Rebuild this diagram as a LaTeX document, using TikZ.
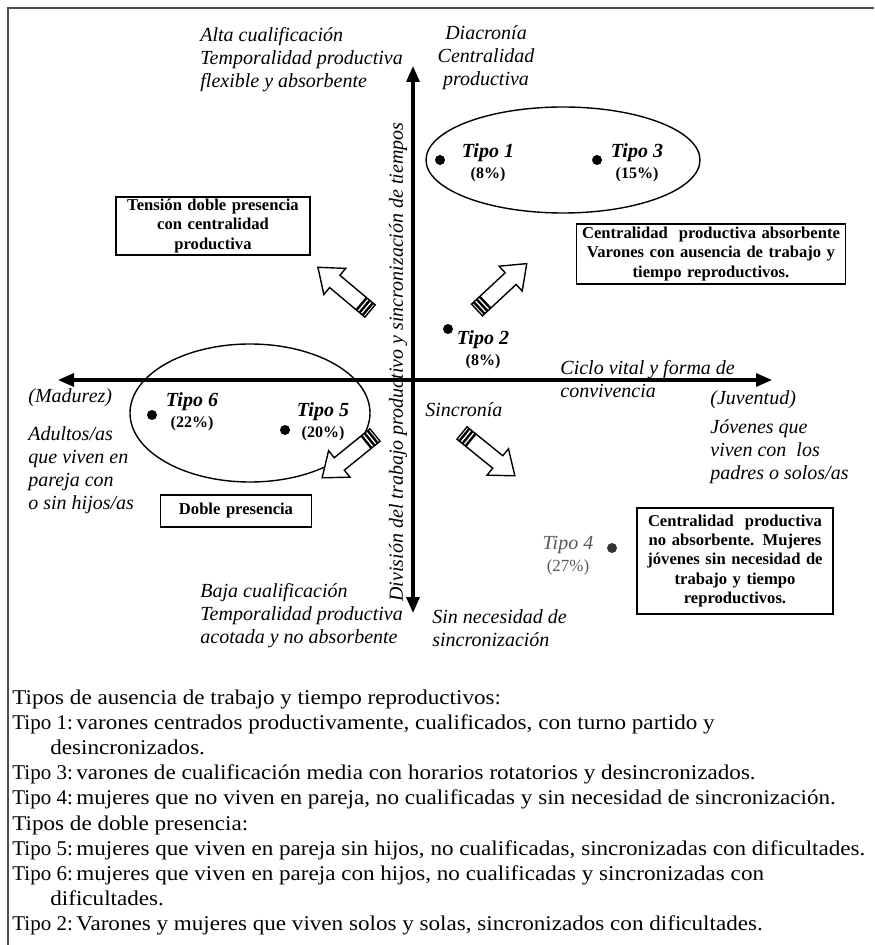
\documentclass[tikz,border=0pt]{standalone}
\usepackage{fontspec}
\setmainfont{Liberation Serif}
\newfontfamily\legfont[FakeStretch=1.1]{Liberation Serif}
\newcommand{\legtag}[1]{\makebox[32pt][l]{\rmfamily #1}}
\usetikzlibrary{arrows.meta,positioning}
\tikzset{
  lbl/.style    = { align=left, inner sep=0pt, font=\fontsize{10}{11.5}\selectfont\itshape },
  clbl/.style   = { lbl, align=center },
  box/.style    = { draw, line width=0.9pt, align=center, inner sep=0pt,
    font=\fontsize{8.3}{9.6}\selectfont\bfseries },
  tipo/.style   = { inner sep=0pt, font=\fontsize{10}{12}\selectfont\bfseries\itshape },
  pct/.style    = { inner sep=0pt, font=\fontsize{8}{10}\selectfont\bfseries },
  dotn/.style   = { circle, fill=black, inner sep=0pt, minimum size=5pt },
  axis/.style   = { line width=1.6pt, {Triangle[length=8pt,width=6.5pt]}-{Triangle[length=8pt,width=6.5pt]} },
  ring/.style   = { draw, line width=0.7pt },
  legend/.style = { align=left, inner sep=0pt, font=\legfont\fontsize{10.5}{12.4}\selectfont },
  barrow/.pic   = {
    \draw[fill=white, line width=0.7pt] (0,-8) -- (46,-8) -- (46,-17) -- (68,0)
      -- (46,17) -- (46,8) -- (0,8) -- cycle;
    \foreach \s in {3,7,11}
      \draw[line width=1.2pt] (\s,-8) -- (\s,8);
  }
}

\begin{document}
\begin{tikzpicture}[x=0.5pt, y=0.5pt, node distance=11pt, on grid]
    \useasboundingbox (0,0) rectangle (874,-945);
    % frame
    \draw[black!70, line width=1pt] (874,-8) -- (7,-8);
    \draw[black!70, line width=1pt] (8,-8) -- (8,-945);

    % axes
    \coordinate (ytop) at (413,-66);
    \coordinate (ybot) at (413,-613);
    \coordinate (xlft) at (58,-380);
    \coordinate (xrgt) at (772,-380);
    \draw[axis] (ybot) -- (ytop);
    \draw[axis] (xlft) -- (xrgt);
    \node[lbl, rotate=90] (yname) at (398,-362)
      {División del trabajo productivo y sincronización de tiempos};

    % corner labels
    \node[lbl, anchor=west] (alta) at (200,-60)
      {Alta cualificación\\Temporalidad productiva\\flexible y absorbente};
    \node[clbl] (diac) at (486,-58) {Diacronía\\Centralidad\\productiva};
    \node[lbl, anchor=west] (ciclo) at (560,-379) {Ciclo vital y forma de\\convivencia};
    \node[lbl, anchor=west] (juv) at (710,-400) {(Juventud)};
    \node[lbl, anchor=west] (jov) at (710,-452)
      {Jóvenes que\\viven con\ \ los\\padres o solos/as};
    \node[lbl, anchor=west] (mad) at (28,-398) {(Madurez)};
    \node[lbl, anchor=west] (adul) at (28,-470)
      {Adultos/as\\que viven en\\pareja con\\o sin hijos/as};
    \node[lbl, anchor=west] (sinc) at (425,-410) {Sincronía};
    \node[lbl, anchor=west] (baja) at (200,-616)
      {Baja cualificación\\Temporalidad productiva\\acotada y no absorbente};
    \node[lbl, anchor=west] (sinnec) at (432,-628) {Sin necesidad de\\sincronización};

    % groups
    \draw[ring] (563,-160) ellipse [x radius=137, y radius=53];
    \draw[ring] (250,-413) ellipse [x radius=120, y radius=69];

    % types
    \node[dotn] (d1) at (440,-160) {};
    \node[tipo] (t1) at (488,-153) {Tipo 1};
    \node[pct, below of=t1] (p1) {(8\%)};
    \node[dotn] (d3) at (597,-160) {};
    \node[tipo] (t3) at (637,-153) {Tipo 3};
    \node[pct, below of=t3] (p3) {(15\%)};
    \node[dotn] (d2) at (448,-329) {};
    \node[tipo] (t2) at (483,-340) {Tipo 2};
    \node[pct, below of=t2] (p2) {(8\%)};
    \node[dotn] (d6) at (152,-415) {};
    \node[tipo] (t6) at (192,-402) {Tipo 6};
    \node[pct, below of=t6] (p6) {(22\%)};
    \node[dotn] (d5) at (285,-430) {};
    \node[tipo] (t5) at (323,-412) {Tipo 5};
    \node[pct, below of=t5] (p5) {(20\%)};
    \node[dotn, fill=black!80] (d4) at (612,-548) {};
    \node[lbl, black!65] (t4) at (568,-545) {Tipo 4};
    \node[lbl, black!65, font=\fontsize{8.5}{10}\selectfont, below of=t4] (p4) {(27\%)};

    % boxes
    \node[box, text width=97pt, minimum height=29pt] (tens) at (213,-226)
      {Tensión doble presencia\\con centralidad\\productiva};
    \node[box, text width=134.5pt, minimum height=30pt] (absorb) at (711,-254)
      {Centralidad\ \ productiva absorbente\\Varones con ausencia de trabajo y\\tiempo reproductivos.};
    \node[box, text width=75.5pt, minimum height=16pt] (doble) at (236,-511)
      {Doble presencia};
    \node[box, text width=98pt, minimum height=53pt] (noabs) at (735,-561)
      {Centralidad\ \ productiva\\no absorbente. Mujeres\\jóvenes sin necesidad de\\trabajo y tiempo\\reproductivos.};

    % block arrows
    \pic[rotate=140] at (370,-311) {barrow};
    \pic[rotate=43]  at (477,-310) {barrow};
    \pic[rotate=219] at (375,-435) {barrow};
    \pic[rotate=-39] at (462,-433) {barrow};

    % legend
    \node[legend, anchor=north west] (leg) at (12,-690) {%
      Tipos de ausencia de trabajo y tiempo reproductivos:\\
      \legtag{Tipo 1:}varones centrados productivamente, cualificados, con turno partido y\\
      \hspace*{19pt}desincronizados.\\
      \legtag{Tipo 3:}varones de cualificación media con horarios rotatorios y desincronizados.\\
      \legtag{Tipo 4:}mujeres que no viven en pareja, no cualificadas y sin necesidad de sincronización.\\[1pt]
      Tipos de doble presencia:\\
      \legtag{Tipo 5:}mujeres que viven en pareja sin hijos, no cualificadas, sincronizadas con dificultades.\\
      \legtag{Tipo 6:}mujeres que viven en pareja con hijos, no cualificadas y sincronizadas con\\
      \hspace*{19pt}dificultades.\\
      \legtag{Tipo 2:}Varones y mujeres que viven solos y solas, sincronizados con dificultades.};
  \end{tikzpicture}
\end{document}
